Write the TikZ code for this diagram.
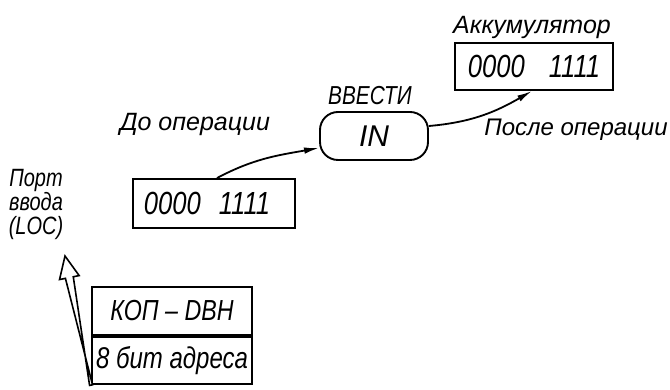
\documentclass[tikz,border=0pt]{standalone}
\usepackage{fontspec}
\setmainfont{Liberation Sans}
\newfontfamily\condf{Liberation Sans}[FakeStretch=0.8]
\usetikzlibrary{arrows.meta,calc}
\begin{document}
\begin{tikzpicture}[x=1pt,y=1pt,
  lbl/.style={font=\itshape\fontsize{25}{25}\selectfont, inner sep=0pt},
  clbl/.style={font=\condf\itshape\fontsize{25}{25}\selectfont, inner sep=0pt},
  regbox/.style={draw, line width=1.9pt, minimum width=160pt, minimum height=48pt, inner sep=0pt, font=\condf\itshape\fontsize{32}{32}\selectfont},
  kopbox/.style={draw, line width=1.9pt, minimum width=160pt, minimum height=47.5pt, inner sep=0pt, font=\condf\itshape\fontsize{29}{29}\selectfont},
  opbox/.style={draw, line width=1.9pt, rounded corners=18pt, minimum width=108pt, minimum height=48pt, inner sep=0pt, font=\itshape\fontsize{30}{30}\selectfont},
  flow/.style={line width=1.8pt, -{Latex[length=15pt,width=6.5pt]}},
  hollow/.style={draw, line width=1.6pt, fill=white, line join=miter},
]
\useasboundingbox (0,0) rectangle (670,390);

% labels
\node[lbl] (acclbl) at (532,362) {Аккумулятор};
\node[clbl, font=\condf\itshape\fontsize{26}{26}\selectfont] (inlbl) at (370,294) {ВВЕСТИ};
\node[lbl] (before) at (195,265) {До операции};
\node[lbl, font=\itshape\fontsize{24}{24}\selectfont] (after) at (576,260) {После операции};
\node[clbl, align=center, font=\condf\itshape\fontsize{25}{24}\selectfont] (port) at (36,186) {Порт\\ввода\\(LOC)};

% boxes
\node[regbox, minimum width=158pt, minimum height=47pt] (acc) at (534,323.5) {0000\hspace{24pt}1111};
\node[opbox] (in) at (374,254) {IN};
\node[regbox, minimum width=162pt, minimum height=49pt] (src) at (214,186.5) {\hspace{-14pt}0000\hspace{18pt}1111};
\node[kopbox] (kop) at (172,79) {КОП – DBH};
\node[kopbox, anchor=north, font=\condf\itshape\fontsize{30}{30}\selectfont] (addr) at (kop.south) {8 бит адреса};

% connectors
\draw[flow] ($(src.north)+(3,0)$) to[out=28,in=190] ($(in.west)+(0,-12)$);
\draw[flow] ($(in.east)+(0,10)$) to[out=5,in=210] ($(acc.south)+(-2,0)$);

% hollow arrow from the instruction to the port
\coordinate (tip) at (65,134);
\coordinate (tail) at (addr.south west);
\coordinate (hb) at ($(tip)!22pt!(tail)$);
\path[hollow]
  (tip)
  -- ($(hb)!10pt!90:(tip)$)
  -- ($(hb)!4pt!90:(tip)$)
  -- ($(tail)!1.5pt!-90:(tip)$)
  -- ($(tail)!1.5pt!90:(tip)$)
  -- ($(hb)!4pt!-90:(tip)$)
  -- ($(hb)!10pt!-90:(tip)$)
  -- cycle;
\end{tikzpicture}
\end{document}
